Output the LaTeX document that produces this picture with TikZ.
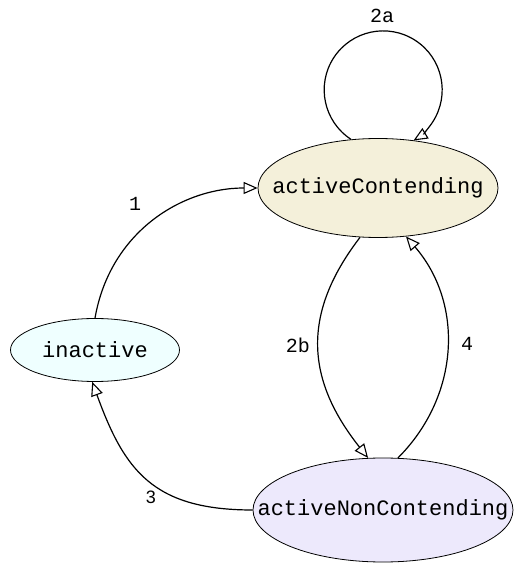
\documentclass[tikz,border=0pt]{standalone}
\usepackage{fontspec}
\setmonofont{Liberation Mono}
\newfontfamily\labelsans{Liberation Sans}
\usetikzlibrary{arrows.meta,shapes.geometric}

\definecolor{contendfill}{RGB}{244,240,218}
\definecolor{inactivefill}{RGB}{239,255,255}
\definecolor{noncontendfill}{RGB}{237,233,252}

% the ellipse size is set by minimum width/height only; the label is centred inside
\newcommand{\statetext}[1]{\makebox[0pt]{#1}}

\tikzset{
  state/.style={ellipse, draw=black, line width=0.8pt, inner sep=0pt,
    font=\ttfamily\fontsize{22}{24}\selectfont},
  trans/.style={line width=1.2pt,
    -{Triangle[open, length=14pt, width=12pt, line width=1.1pt]}},
  edgelabel/.style={font=\ttfamily\fontsize{20}{22}\selectfont, inner sep=0pt}
}

\begin{document}
\begin{tikzpicture}[x=1pt, y=1pt]
  \useasboundingbox (0,0) rectangle (514,563);

  % states
  \node[state, fill=contendfill, minimum width=240pt, minimum height=99pt]
    (ac) at (378,375) {\statetext{activeContending}};
  \node[state, fill=inactivefill, minimum width=169pt, minimum height=63pt]
    (ina) at (95,213) {\statetext{inactive}};
  \node[state, fill=noncontendfill, minimum width=260pt, minimum height=104pt]
    (anc) at (383,53) {\statetext{activeNonContending}};

  % 1: inactive -> activeContending
  \draw[trans] (ina.north) .. controls +(15,86) and +(-76,0) .. (ac.west);
  \node[edgelabel] (l1) at (135,359) {1};

  % 2a: self loop on activeContending
  \draw[trans] (ac.119) arc[start angle=-123, end angle=-419, radius=59];
  \node[edgelabel] (l2a) at (382,547) {2a};

  % 2b: activeContending -> activeNonContending
  \draw[trans] (ac.250) .. controls +(-60,-78) and +(-61,77) .. (anc.106);
  \node[edgelabel] (l2b) at (298,218) {2b};

  % 4: activeNonContending -> activeContending
  \draw[trans] (anc.74) .. controls +(62,62) and +(58,-67) .. (ac.300);
  \node[edgelabel] (l4) at (467,219) {4};

  % 3: activeNonContending -> inactive
  \draw[trans] (anc.west) .. controls +(-100,0) and +(32,-88) .. (ina.265);
  \node[edgelabel, font=\labelsans\fontsize{18}{20}\selectfont] (l3) at (151,66) {3};
\end{tikzpicture}
\end{document}
